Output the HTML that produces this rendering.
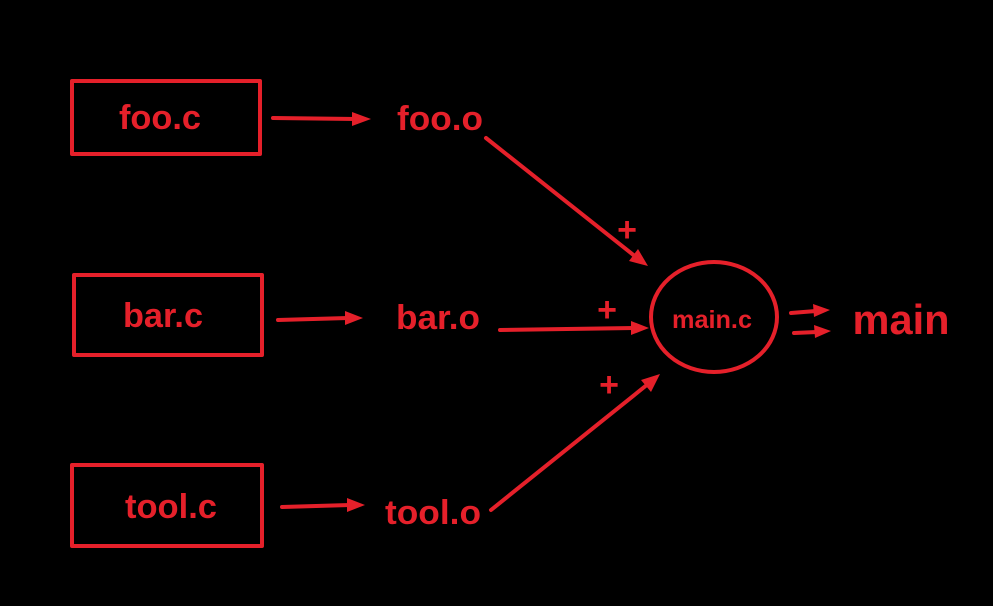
<!DOCTYPE html>
<html><head><style>html,body{margin:0;padding:0;background:#000;width:993px;height:606px;overflow:hidden}</style></head>
<body>
<svg width="993" height="606" viewBox="0 0 993 606" xmlns="http://www.w3.org/2000/svg">
<rect width="993" height="606" fill="#000"/>
<g fill="none" stroke="#e5202a" stroke-width="4" stroke-linecap="round" stroke-linejoin="round">
<rect x="72" y="81" width="188" height="73"/>
<rect x="74" y="275" width="188" height="80"/>
<rect x="72" y="465" width="190" height="81"/>
<ellipse cx="714" cy="317" rx="63" ry="55"/>
<line x1="273" y1="118" x2="356" y2="119"/>
<line x1="278" y1="320" x2="348" y2="318"/>
<line x1="282" y1="507" x2="350" y2="505"/>
<line x1="486" y1="138" x2="636" y2="257"/>
<line x1="500" y1="330" x2="634" y2="328"/>
<line x1="491" y1="510" x2="648" y2="384"/>
<line x1="791" y1="313" x2="816" y2="311"/>
<line x1="794" y1="333" x2="817" y2="332"/>
</g>
<g fill="#e5202a">
<polygon points="371,119 352,112 352,126"/>
<polygon points="363,318 345,311 345,325"/>
<polygon points="365,505 347,498 347,512"/>
<polygon points="648,266 638,249 629,261"/>
<polygon points="649,328 631,321 631,335"/>
<polygon points="660,374 641,380 651,392"/>
<polygon points="830,310 813,304 814,317"/>
<polygon points="831,331 814,325 815,338"/>
</g>
<g fill="#e5202a" font-family="Liberation Sans, sans-serif" font-weight="bold" text-anchor="middle" lengthAdjust="spacingAndGlyphs">
<text x="160" y="129" font-size="34" textLength="82" lengthAdjust="spacingAndGlyphs">foo.c</text>
<text x="163" y="327" font-size="34" textLength="80" lengthAdjust="spacingAndGlyphs">bar.c</text>
<text x="171" y="518" font-size="34" textLength="92" lengthAdjust="spacingAndGlyphs">tool.c</text>
<text x="440" y="130" font-size="34" textLength="86" lengthAdjust="spacingAndGlyphs">foo.o</text>
<text x="438" y="329" font-size="34" textLength="84" lengthAdjust="spacingAndGlyphs">bar.o</text>
<text x="433" y="524" font-size="34" textLength="96" lengthAdjust="spacingAndGlyphs">tool.o</text>
<text x="712" y="328" font-size="25" textLength="80" lengthAdjust="spacingAndGlyphs">main.c</text>
<text x="901" y="334" font-size="42" textLength="97" lengthAdjust="spacingAndGlyphs">main</text>
<text x="627" y="241" font-size="34">+</text>
<text x="607" y="321" font-size="34">+</text>
<text x="609" y="396" font-size="34">+</text>
</g>
</svg>
</body></html>
